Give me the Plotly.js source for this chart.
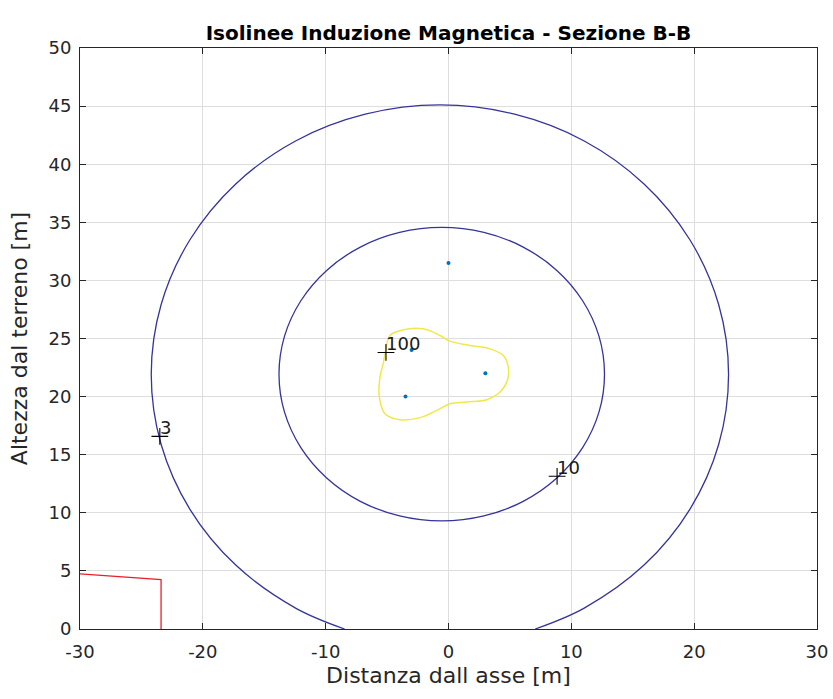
<!DOCTYPE html>
<html>
<head>
<meta charset="utf-8">
<script src="https://cdn.plot.ly/plotly-3.0.1.min.js"></script>
<style>html,body{margin:0;padding:0;background:#fff;} #chart{width:833px;height:699px;}</style>
</head>
<body>
<div id="chart"></div>
<script>
// Isoline 3 (outer)
const outerX = [7.06, 11.05, 15.92, 19.65, 22.0, 22.8, 22.0, 19.65, 15.92, 11.05, 5.38, -0.7, -6.78, -12.45, -17.32, -21.05, -23.4, -24.2, -23.4, -21.05, -17.32, -12.45, -8.46];
const outerY = [0, 1.8, 5.5, 10.3, 15.9, 21.9, 27.9, 33.5, 38.3, 42.0, 44.3, 45.1, 44.3, 42.0, 38.3, 33.5, 27.9, 21.9, 15.9, 10.3, 5.5, 1.8, 0];
// Isoline 10 (inner)
const innerX = [12.7, 12.25, 10.92, 8.82, 6.08, 2.88, -0.55, -3.98, -7.18, -9.92, -12.02, -13.35, -13.8, -13.35, -12.02, -9.92, -7.18, -3.98, -0.55, 2.88, 6.08, 8.82, 10.92, 12.25, 12.7];
const innerY = [21.93, 25.2, 28.25, 30.86, 32.87, 34.13, 34.56, 34.13, 32.87, 30.86, 28.25, 25.2, 21.93, 18.66, 15.61, 13.0, 10.99, 9.73, 9.3, 9.73, 10.99, 13.0, 15.61, 18.66, 21.93];
// Isoline 100 (yellow)
const yellowX = [-5.17, -4.76, -3.68, -2.05, -0.69, 0.12, 1.75, 3.38, 4.46, 4.87, 4.79, 4.19, 3.11, 1.48, 0.12, -0.96, -2.32, -3.95, -5.17, -5.63, -5.58, -5.31, -5.17];
const yellowY = [23.68, 25.26, 25.75, 25.83, 25.26, 24.77, 24.4, 24.11, 23.54, 22.54, 21.39, 20.39, 19.73, 19.53, 19.39, 18.81, 18.19, 18.01, 18.53, 19.96, 21.68, 22.83, 23.68];
// Conductors
const condX = [0, -3, 3, -3.5];
const condY = [31.5, 24, 22, 20];
// Building outline (red)
const redX = [-30, -23.4, -23.4];
const redY = [4.75, 4.25, 0];
// Contour labels
const labelText = ['3', '10', '100'];
const labelX = [-23.5, 8.84, -5.09];
const labelY = [16.58, 13.14, 23.8];
// Tick labels
const xTickVals = [-30, -20, -10, 0, 10, 20, 30];
const xTickText = ['-30', '-20', '-10', '0', '10', '20', '30'];
const yTickVals = [0, 5, 10, 15, 20, 25, 30, 35, 40, 45, 50];
const yTickText = ['0', '5', '10', '15', '20', '25', '30', '35', '40', '45', '50'];

const FONT = 'DejaVu Sans, Liberation Sans, Arial, sans-serif';

const traces = [
  {x: outerX, y: outerY, mode: 'lines', line: {color: '#34349a', width: 1.3, shape: 'spline', smoothing: 1}, hoverinfo: 'skip'},
  {x: innerX, y: innerY, mode: 'lines', line: {color: '#34349a', width: 1.3, shape: 'spline', smoothing: 1}, hoverinfo: 'skip'},
  {x: yellowX, y: yellowY, mode: 'lines', line: {color: '#f0e84a', width: 1.5, shape: 'spline', smoothing: 1}, hoverinfo: 'skip'},
  {x: redX, y: redY, mode: 'lines', line: {color: '#e8202a', width: 1.3}, hoverinfo: 'skip'},
  {x: condX, y: condY, mode: 'markers', marker: {color: '#0072bd', size: 4}, hoverinfo: 'skip'},
  {x: labelX, y: labelY, mode: 'markers', marker: {symbol: 'cross-thin', size: 12, line: {color: '#000', width: 1.1}}, hoverinfo: 'skip'}
];

const annotations = labelText.map((t, i) => ({
  x: labelX[i], y: labelY[i], text: t, showarrow: false,
  xanchor: 'left', yanchor: 'bottom', xshift: -2, yshift: -4,
  font: {family: FONT, size: 18, color: '#1a1a1a'}
}));

const axisCommon = {
  showline: true, linecolor: '#262626', linewidth: 1, mirror: 'allticks',
  ticks: 'inside', ticklen: 6, tickcolor: '#262626', tickwidth: 1,
  showgrid: true, gridcolor: '#dedede', gridwidth: 1, zeroline: false,
  tickmode: 'array',
  tickfont: {family: FONT, size: 18, color: '#262626'}
};

const layout = {
  width: 833, height: 699,
  margin: {l: 80, r: 16, t: 48, b: 70},
  paper_bgcolor: '#fff', plot_bgcolor: '#fff',
  showlegend: false,
  title: {text: '<b>Isolinee Induzione Magnetica - Sezione B-B</b>', xref: 'paper', x: 0.5, xanchor: 'center', y: 0.953, yanchor: 'middle',
    font: {family: FONT, size: 20, color: '#000'}},
  xaxis: Object.assign({}, axisCommon, {range: [-30, 30], tickvals: xTickVals, ticktext: xTickText, ticklabelstandoff: 6,
    title: {text: 'Distanza dall asse [m]', standoff: 7, font: {family: FONT, size: 22, color: '#262626'}}}),
  yaxis: Object.assign({}, axisCommon, {range: [0, 50], tickvals: yTickVals, ticktext: yTickText, ticklabelstandoff: 4,
    title: {text: 'Altezza dal terreno [m]', standoff: 14, font: {family: FONT, size: 22, color: '#262626'}}}),
  annotations: annotations
};

Plotly.newPlot('chart', traces, layout, {displayModeBar: false, staticPlot: true});
</script>
</body>
</html>
